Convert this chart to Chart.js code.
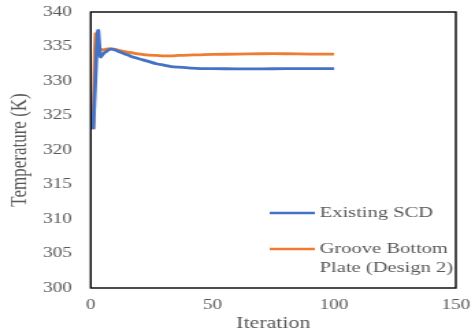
<!DOCTYPE html>
<html>
<head>
<meta charset="utf-8">
<script src="https://cdn.jsdelivr.net/npm/chart.js@4"></script>
<style>
    html, body { margin: 0; padding: 0; background: #fff; overflow: hidden; }
    /* the original picture is stretched sideways, so draw narrow and stretch */
    #wrap { width: 347px; height: 333px; transform: scaleX(1.3689); transform-origin: 0 0; }
</style>
</head>
<body>
<div id="wrap"><canvas id="chart"></canvas></div>
<script>
    // Data
    var iterations = [1, 2, 3, 4, 5, 6, 8, 10, 12, 15, 18, 21, 24, 27, 30, 33, 36, 40, 45, 50, 60, 70, 80, 90, 100];
    var existingSCD = [323, 331, 337.3, 333.5, 333.9, 334.2, 334.6, 334.5, 334.2, 333.8, 333.4, 333.1, 332.8, 332.5, 332.3, 332.1, 332.0, 331.9, 331.8, 331.8, 331.75, 331.75, 331.8, 331.8, 331.8];
    var grooveBottom = [323, 336.8, 334.3, 334.6, 334.5, 334.6, 334.7, 334.6, 334.4, 334.2, 334.0, 333.85, 333.75, 333.7, 333.65, 333.65, 333.7, 333.75, 333.8, 333.85, 333.9, 333.95, 333.95, 333.9, 333.9];
    var xTicks = [0, 50, 100, 150];
    var yTicks = [300, 305, 310, 315, 320, 325, 330, 335, 340];
    var seriesNames = ["Existing SCD", ["Groove Bottom", "Plate (Design 2)"]];

    function points(vals) {
        return iterations.map(function (it, i) { return {x: it, y: vals[i]}; });
    }

    var serif = "'Liberation Serif', 'DejaVu Serif', serif";
    var grey = "#595959";

    // Box round the plot area plus the legend inside it
    var frameAndLegend = {
        id: 'frameAndLegend',
        afterDraw: function (chart) {
            var ctx = chart.ctx, a = chart.chartArea;
            ctx.save();
            ctx.strokeStyle = "#000";
            ctx.lineWidth = 1.4;
            ctx.strokeRect(a.left, a.top, a.right - a.left, a.bottom - a.top);

            ctx.font = "15px " + serif;
            ctx.fillStyle = grey;
            ctx.textBaseline = "middle";
            var rows = [213, 249];
            chart.data.datasets.forEach(function (ds, i) {
                var y = rows[i];
                ctx.strokeStyle = ds.borderColor;
                ctx.lineWidth = 2.5;
                ctx.beginPath();
                ctx.moveTo(197, y);
                ctx.lineTo(230, y);
                ctx.stroke();
                var lines = [].concat(seriesNames[i]);
                lines.forEach(function (t, j) {
                    ctx.fillText(t, 233.5, y + j * 19);
                });
            });
            ctx.restore();
        }
    };

    var ctx = document.getElementById('chart').getContext('2d');
    var myChart = new Chart(ctx, {
        type: 'scatter',
        data: {
            datasets: [{
                label: "Existing SCD",
                data: points(existingSCD),
                showLine: true,
                borderColor: "#4472C4",
                backgroundColor: "#4472C4",
                borderWidth: 2.8,
                pointRadius: 0,
                tension: 0.3
            },
            {
                label: "Groove Bottom Plate (Design 2)",
                data: points(grooveBottom),
                showLine: true,
                borderColor: "#ED7D31",
                backgroundColor: "#ED7D31",
                borderWidth: 2.8,
                pointRadius: 0,
                tension: 0.3
            }]
        },
        options: {
            responsive: true,
            maintainAspectRatio: false,
            animation: false,
            layout: { padding: { left: 0, top: 12, right: 14, bottom: 0 } },
            plugins: {
                legend: { display: false },
                tooltip: { enabled: false }
            },
            scales: {
                x: {
                    type: 'linear',
                    min: 0,
                    max: 150,
                    afterBuildTicks: function (s) { s.ticks = xTicks.map(function (v) { return {value: v}; }); },
                    afterFit: function (s) {
                        s.height = 45;
                        s.paddingLeft = 0;
                        s.paddingRight = 0;
                    },
                    grid: { display: false, drawTicks: false },
                    border: { display: false },
                    ticks: { color: grey, font: { family: serif, size: 14 }, padding: 9, maxRotation: 0 },
                    title: { display: true, text: "Iteration", color: grey, font: { family: serif, size: 16 }, padding: { top: 0, bottom: 0 } }
                },
                y: {
                    min: 300,
                    max: 340,
                    afterBuildTicks: function (s) { s.ticks = yTicks.map(function (v) { return {value: v}; }); },
                    afterFit: function (s) {
                        s.width = 66.3;
                        // let the 340 label poke above the box instead of pushing the box down
                        s.paddingTop = 0;
                        s.paddingBottom = 0;
                    },
                    grid: { display: false, drawTicks: false },
                    border: { display: false },
                    ticks: { color: grey, font: { family: serif, size: 14 }, padding: 13.7 },
                    title: { display: true, text: "Temperature (K)", color: grey, font: { family: serif, size: 17 }, padding: { top: 4, bottom: 0 } }
                }
            }
        },
        plugins: [frameAndLegend]
    });
</script>
</body>
</html>
